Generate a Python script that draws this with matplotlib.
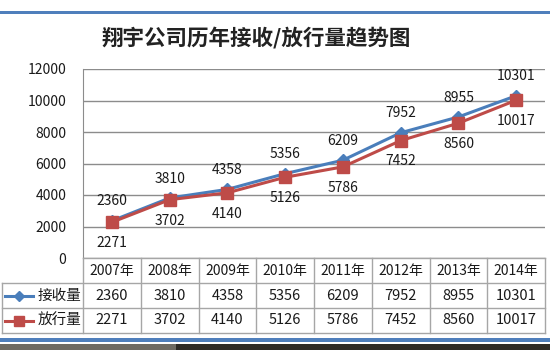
import numpy as np
import matplotlib.pyplot as plt
from matplotlib.patches import Rectangle

plt.rcParams['font.family'] = ['Noto Sans CJK SC', 'DejaVu Sans']

years = ['2007年', '2008年', '2009年', '2010年', '2011年', '2012年', '2013年', '2014年']
received = [2360, 3810, 4358, 5356, 6209, 7952, 8955, 10301]
released = [2271, 3702, 4140, 5126, 5786, 7452, 8560, 10017]
series_names = ['接收量', '放行量']
title = '翔宇公司历年接收/放行量趋势图'

blue = '#4A7EBB'
red = '#BE4B48'
grid_c = '#8C8C8C'
W, H = 550, 350

fig = plt.figure(figsize=(W / 100, H / 100), dpi=100)
fig.patch.set_facecolor('white')

def fy(y):
    return 1 - y / H

# blue rules at top and bottom, dark strip below
fig.add_artist(Rectangle((0, fy(14)), 1, 3 / H, transform=fig.transFigure, color='#4F7FBC', lw=0))
fig.add_artist(Rectangle((0, fy(342)), 1, 4 / H, transform=fig.transFigure, color='#4F7FBC', lw=0))
fig.add_artist(Rectangle((0, 0), 1, 6 / H, transform=fig.transFigure, color='#2E2B26', lw=0))
fig.add_artist(Rectangle((0, 0), 0.32, 6 / H, transform=fig.transFigure, color='#6E6A62', lw=0))

fig.text(256 / W, fy(38), title, ha='center', va='center', fontsize=15.5, fontweight='bold', color='#222222')

# main line chart
ax = fig.add_axes([83 / W, fy(258), (545 - 83) / W, (258 - 69) / H])
x = np.arange(len(years))
ax.plot(x, received, color=blue, lw=2.2, marker='D', ms=6, zorder=3)
ax.plot(x, released, color=red, lw=2.2, marker='s', ms=8, zorder=4)
ax.set_xlim(-0.5, len(years) - 0.5)
ax.set_ylim(0, 12000)
ax.set_yticks(np.arange(0, 12001, 2000))
ax.set_xticks([])
ax.tick_params(axis='y', length=0, pad=12, labelsize=10)
for t in ax.get_yticklabels():
    t.set_color('#1A1A1A')
ax.grid(axis='y', color=grid_c, lw=1)
ax.set_axisbelow(True)
for s in ['top', 'right', 'bottom']:
    ax.spines[s].set_visible(False)
ax.spines['left'].set_color(grid_c)

for xi, v in zip(x, received):
    ax.annotate(str(v), (xi, v), xytext=(0, 14), textcoords='offset points',
                ha='center', va='center', fontsize=10, color='#1A1A1A')
for xi, v in zip(x, released):
    ax.annotate(str(v), (xi, v), xytext=(0, -15), textcoords='offset points',
                ha='center', va='center', fontsize=10, color='#1A1A1A')

# data table under the chart
tab = fig.add_axes([2 / W, fy(333), (545 - 2) / W, (333 - 258) / H])
col_w = (545 - 83) / len(years)
left = -0.5 - (83 - 2) / col_w
right = len(years) - 0.5
tab.set_xlim(left, right)
tab.set_ylim(3, 0)
tab.axis('off')
line_c = '#A6A6A6'
tab.plot([-0.5, right], [0, 0], color=line_c, lw=1, clip_on=False)
for r in [1, 2, 3]:
    tab.plot([left, right], [r, r], color=line_c, lw=1, clip_on=False)
tab.plot([left, left], [1, 3], color=line_c, lw=1, clip_on=False)
for k in range(len(years) + 1):
    tab.plot([k - 0.5, k - 0.5], [0, 3], color=line_c, lw=1, clip_on=False)

for i, yr in enumerate(years):
    tab.text(i, 0.5, yr, ha='center', va='center', fontsize=10, color='#1A1A1A')
    tab.text(i, 1.5, str(received[i]), ha='center', va='center', fontsize=10.5, color='#1A1A1A')
    tab.text(i, 2.5, str(released[i]), ha='center', va='center', fontsize=10.5, color='#1A1A1A')

key_x0 = left + 3 / col_w
key_x1 = left + 31 / col_w
for row, (name, c, m, ms) in enumerate([(series_names[0], blue, 'D', 5),
                                         (series_names[1], red, 's', 7)]):
    yc = row + 1.5
    tab.plot([key_x0, key_x1], [yc, yc], color=c, lw=2.2, clip_on=False)
    tab.plot([(key_x0 + key_x1) / 2], [yc], color=c, marker=m, ms=ms, clip_on=False)
    tab.text(left + 36 / col_w, yc, name, ha='left', va='center', fontsize=10.5, color='#1A1A1A')

fig.savefig('out.png', dpi=100)
